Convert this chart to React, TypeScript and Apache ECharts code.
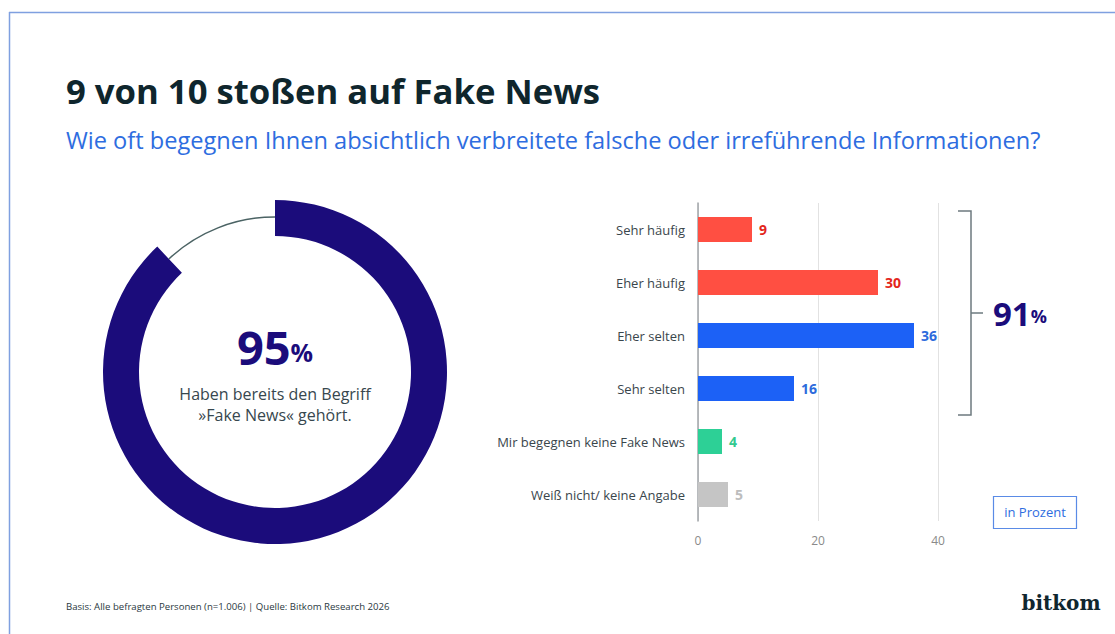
import React, { useEffect, useRef } from "react";
import * as echarts from "echarts";

const categories = [
  "Sehr häufig",
  "Eher häufig",
  "Eher selten",
  "Sehr selten",
  "Mir begegnen keine Fake News",
  "Weiß nicht/ keine Angabe",
];
const values = [9, 30, 36, 16, 4, 5];
const barColors = ["#ff4f42", "#ff4f42", "#1c61f6", "#1c61f6", "#2dd096", "#c5c5c5"];
const labelColors = ["#e3261b", "#e3261b", "#2d6bdc", "#2d6bdc", "#33c98f", "#bdbdbd"];
const xTicks = [0, 20, 40];

// donut: displayed share and arc share as drawn in the picture
const awarenessValue = 95;
const donutArc = [88, 12];
const totalEncounter = 91;

const NAVY = "#1b0c7b";
const FONT = "'Open Sans', 'Noto Sans', sans-serif";

export default function App() {
  const ref = useRef<HTMLDivElement>(null);
  useEffect(() => {
    const chart = echarts.init(ref.current!, undefined, { renderer: "svg" });
    const option: any = {
      animation: false,
      backgroundColor: "#ffffff",
      textStyle: { fontFamily: FONT },
      grid: { left: 698, top: 203, width: 240, height: 318, containLabel: false },
      xAxis: {
        type: "value",
        min: xTicks[0],
        max: xTicks[xTicks.length - 1],
        interval: xTicks[1] - xTicks[0],
        axisLine: { show: false },
        axisTick: { show: false },
        splitLine: { lineStyle: { color: "#e2e2e2", width: 1 } },
        axisLabel: { color: "#8a8a8a", fontSize: 12, margin: 13, fontFamily: FONT },
      },
      yAxis: {
        type: "category",
        inverse: true,
        data: categories,
        axisLine: { show: true, lineStyle: { color: "#a0a5a8", width: 1.5 } },
        axisTick: { show: false },
        axisLabel: { color: "#3a464c", fontSize: 13, margin: 13, fontFamily: FONT },
      },
      series: [
        {
          type: "bar",
          barWidth: 25,
          silent: true,
          data: values.map((v, i) => ({
            value: v,
            itemStyle: { color: barColors[i] },
            label: { color: labelColors[i] },
          })),
          label: {
            show: true,
            position: "right",
            distance: 7,
            fontSize: 14,
            fontWeight: "bold",
            fontFamily: FONT,
          },
        },
        {
          type: "pie",
          center: [275, 372],
          radius: [136, 172],
          startAngle: 90,
          clockwise: true,
          silent: true,
          label: { show: false },
          labelLine: { show: false },
          data: [
            { value: donutArc[0], itemStyle: { color: NAVY } },
            { value: donutArc[1], itemStyle: { color: "rgba(0,0,0,0)" } },
          ],
        },
        {
          type: "pie",
          center: [275, 372],
          radius: [154.3, 155.8],
          startAngle: 90,
          clockwise: true,
          silent: true,
          z: 1,
          label: { show: false },
          labelLine: { show: false },
          data: [
            { value: donutArc[0], itemStyle: { color: "rgba(0,0,0,0)" } },
            { value: donutArc[1], itemStyle: { color: "#4b6364" } },
          ],
        },
      ],
      graphic: [
        { type: "line", shape: { x1: 9, y1: 12.5, x2: 1115, y2: 12.5 }, style: { stroke: "#7fa0e0", lineWidth: 1.5 } },
        { type: "line", shape: { x1: 9.5, y1: 12, x2: 9.5, y2: 634 }, style: { stroke: "#7fa0e0", lineWidth: 1.5 } },
        {
          type: "text",
          x: 66,
          y: 90,
          style: {
            text: "9 von 10 stoßen auf Fake News",
            fill: "#0f262d",
            font: `bold 34.7px ${FONT}`,
            verticalAlign: "middle",
          },
        },
        {
          type: "text",
          x: 66,
          y: 140,
          style: {
            text: "Wie oft begegnen Ihnen absichtlich verbreitete falsche oder irreführende Informationen?",
            fill: "#2e6de0",
            font: `23.6px ${FONT}`,
            verticalAlign: "middle",
          },
        },
        {
          type: "text",
          x: 275,
          y: 347,
          style: {
            text: `{a|${awarenessValue}}{b|%}`,
            align: "center",
            verticalAlign: "middle",
            rich: {
              a: { fontSize: 47, fontWeight: "bold", fill: NAVY, fontFamily: FONT },
              b: { fontSize: 25, fontWeight: "bold", fill: NAVY, fontFamily: FONT, padding: [9, 0, 0, 0] },
            },
          },
        },
        {
          type: "text",
          x: 275,
          y: 394,
          style: {
            text: "Haben bereits den Begriff",
            fill: "#37474e",
            font: `16px ${FONT}`,
            align: "center",
            verticalAlign: "middle",
          },
        },
        {
          type: "text",
          x: 275,
          y: 415,
          style: {
            text: "»Fake News« gehört.",
            fill: "#37474e",
            font: `16px ${FONT}`,
            align: "center",
            verticalAlign: "middle",
          },
        },
        {
          type: "polyline",
          shape: { points: [[958, 211], [971, 211], [971, 415], [958, 415]] },
          style: { stroke: "#6d7a7f", lineWidth: 1.5, fill: null },
        },
        { type: "line", shape: { x1: 971, y1: 313, x2: 983, y2: 313 }, style: { stroke: "#6d7a7f", lineWidth: 1.5 } },
        {
          type: "text",
          x: 993,
          y: 313,
          style: {
            text: `{a|${totalEncounter}}{b|%}`,
            verticalAlign: "middle",
            rich: {
              a: { fontSize: 33, fontWeight: "bold", fill: NAVY, fontFamily: FONT },
              b: { fontSize: 18, fontWeight: "bold", fill: NAVY, fontFamily: FONT, padding: [6, 0, 0, 0] },
            },
          },
        },
        {
          type: "rect",
          shape: { x: 993.5, y: 496.5, width: 83, height: 32 },
          style: { stroke: "#5a8be6", lineWidth: 1.2, fill: "#ffffff" },
        },
        {
          type: "text",
          x: 1035,
          y: 512,
          style: {
            text: "in Prozent",
            fill: "#2e6de0",
            font: `13px ${FONT}`,
            align: "center",
            verticalAlign: "middle",
          },
        },
        {
          type: "text",
          x: 66,
          y: 606,
          style: {
            text: "Basis: Alle befragten Personen (n=1.006) | Quelle: Bitkom Research 2026",
            fill: "#2a383e",
            font: `9.6px ${FONT}`,
            verticalAlign: "middle",
          },
        },
        {
          type: "text",
          x: 1061,
          y: 603,
          style: {
            text: "bitkom",
            fill: "#10262e",
            font: `bold 20px 'DejaVu Serif', serif`,
            align: "center",
            verticalAlign: "middle",
          },
        },
      ],
    };
    chart.setOption(option);
    return () => chart.dispose();
  }, []);
  return (
    <div
      ref={ref}
      style={{ position: "fixed", left: 0, top: 0, width: 1115, height: 634, background: "#fff" }}
    />
  );
}
